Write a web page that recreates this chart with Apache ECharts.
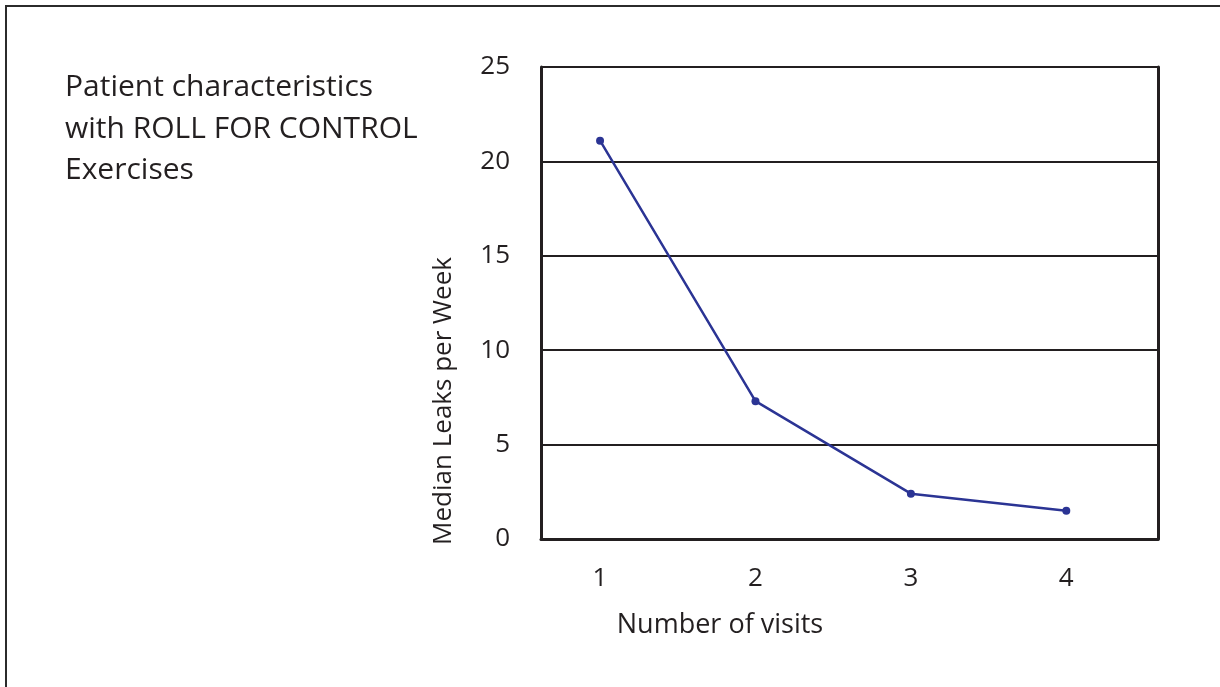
<!DOCTYPE html>
<html>
<head>
<meta charset="utf-8">
<script src="https://cdn.jsdelivr.net/npm/echarts@6/dist/echarts.min.js"></script>
<style>
html,body{margin:0;padding:0;background:#fff;}
#chart{width:1220px;height:687px;}
</style>
</head>
<body>
<div id="chart"></div>
<script>
var visits = [1, 2, 3, 4];
var medianLeaks = [21.1, 7.3, 2.4, 1.5];
var yTicks = [0, 5, 10, 15, 20, 25];
var titleLines = ['Patient characteristics', 'with ROLL FOR CONTROL', 'Exercises'];
var yAxisTitle = 'Median Leaks per Week';
var xAxisTitle = 'Number of visits';

var FONT = '"Open Sans", sans-serif';
var INK = '#231f20';

var chart = echarts.init(document.getElementById('chart'), null, {renderer: 'canvas'});
chart.setOption({
  backgroundColor: '#ffffff',
  animation: false,
  title: {
    text: titleLines.join('\n'),
    left: 60, top: 62,
    textStyle: {fontFamily: FONT, fontSize: 30, fontWeight: 'normal', color: INK, lineHeight: 41.5}
  },
  grid: {left: 541, top: 67, right: 62, bottom: 148, containLabel: false},
  xAxis: {
    type: 'value',
    min: 0.62, max: 4.59,
    axisLine: {show: true, onZero: false, lineStyle: {color: INK, width: 3}},
    axisTick: {show: false},
    splitLine: {show: false},
    axisLabel: {
      customValues: visits,
      margin: 27,
      fontFamily: FONT, fontSize: 26, color: INK
    }
  },
  yAxis: [{
    type: 'value',
    min: 0, max: 25, interval: 5,
    axisLine: {show: true, lineStyle: {color: INK, width: 3}},
    axisTick: {show: false},
    splitLine: {show: true, lineStyle: {color: INK, width: 2}},
    axisLabel: {margin: 31, fontFamily: FONT, fontSize: 26, color: INK}
  }, {
    type: 'value',
    position: 'right',
    min: 0, max: 25, interval: 5,
    axisLine: {show: true, lineStyle: {color: INK, width: 3}},
    axisTick: {show: false},
    splitLine: {show: false},
    axisLabel: {show: false}
  }],
  graphic: [
    {
      type: 'rect', silent: true,
      shape: {x: 6, y: 6, width: 1400, height: 900},
      style: {fill: 'none', stroke: '#2b2b2b', lineWidth: 2}
    },
    {
      type: 'text', silent: true,
      x: 444, y: 401, rotation: Math.PI / 2,
      style: {text: yAxisTitle, fontFamily: FONT, fontSize: 26, fill: INK, align: 'center', verticalAlign: 'middle'}
    },
    {
      type: 'text', silent: true,
      x: 720, y: 625,
      style: {text: xAxisTitle, fontFamily: FONT, fontSize: 27, fill: INK, align: 'center', verticalAlign: 'middle'}
    }
  ],
  series: [{
    type: 'line',
    data: visits.map(function (v, i) { return [v, medianLeaks[i]]; }),
    yAxisIndex: 0,
    symbol: 'circle',
    symbolSize: 8,
    lineStyle: {color: '#2b3494', width: 2.5},
    itemStyle: {color: '#2b3494'}
  }]
});
</script>
</body>
</html>
